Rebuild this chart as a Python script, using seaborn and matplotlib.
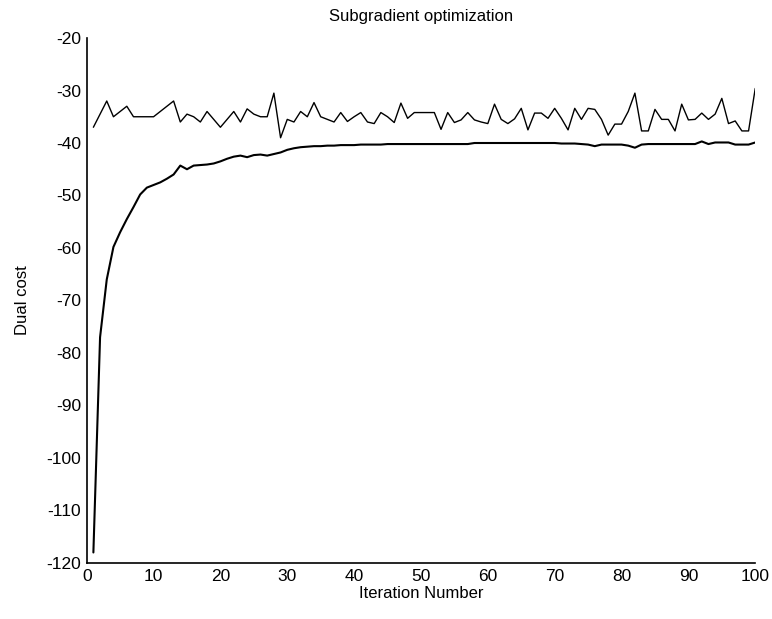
import numpy as np
import pandas as pd
import seaborn as sns
import matplotlib
matplotlib.use("Agg")
import matplotlib.pyplot as plt

iterations = list(range(1, 101))

upper_cost = [
    -37.0, -34.5, -32.0, -35.0, -34.0, -33.0, -35.0, -35.0, -35.0, -35.0,
    -34.0, -33.0, -32.0, -36.0, -34.5, -35.0, -36.0, -34.0, -35.5, -37.0,
    -35.5, -34.0, -36.0, -33.5, -34.5, -35.0, -35.0, -30.5, -39.0, -35.5,
    -36.0, -34.0, -35.0, -32.3, -35.0, -35.5, -36.0, -34.2, -35.9, -35.0,
    -34.2, -36.0, -36.3, -34.2, -35.0, -36.1, -32.4, -35.3, -34.2, -34.2,
    -34.2, -34.2, -37.4, -34.2, -36.1, -35.6, -34.2, -35.6, -36.0, -36.3,
    -32.6, -35.5, -36.3, -35.4, -33.4, -37.5, -34.3, -34.3, -35.3, -33.4,
    -35.3, -37.5, -33.4, -35.5, -33.4, -33.6, -35.5, -38.5, -36.4, -36.4,
    -34.0, -30.5, -37.7, -37.7, -33.6, -35.5, -35.5, -37.7, -32.6, -35.6,
    -35.5, -34.3, -35.5, -34.5, -31.5, -36.3, -35.8, -37.7, -37.7, -29.6,
]

lower_cost = [
    -118.0, -77.0, -66.0, -59.8, -57.0, -54.5, -52.2, -49.8, -48.5, -48.0,
    -47.5, -46.8, -46.0, -44.3, -45.0, -44.3, -44.2, -44.1, -43.9, -43.5,
    -43.0, -42.6, -42.4, -42.7, -42.3, -42.2, -42.4, -42.1, -41.8, -41.3,
    -41.0, -40.8, -40.7, -40.6, -40.6, -40.5, -40.5, -40.4, -40.4, -40.4,
    -40.3, -40.3, -40.3, -40.3, -40.2, -40.2, -40.2, -40.2, -40.2, -40.2,
    -40.2, -40.2, -40.2, -40.2, -40.2, -40.2, -40.2, -40.0, -40.0, -40.0,
    -40.0, -40.0, -40.0, -40.0, -40.0, -40.0, -40.0, -40.0, -40.0, -40.0,
    -40.1, -40.1, -40.1, -40.2, -40.3, -40.6, -40.3, -40.3, -40.3, -40.3,
    -40.5, -40.9, -40.3, -40.2, -40.2, -40.2, -40.2, -40.2, -40.2, -40.2,
    -40.2, -39.7, -40.2, -39.9, -39.9, -39.9, -40.3, -40.3, -40.3, -39.9,
]

x_ticks = [0, 10, 20, 30, 40, 50, 60, 70, 80, 90, 100]
y_ticks = [-120, -110, -100, -90, -80, -70, -60, -50, -40, -30, -20]

df = pd.DataFrame({"Iteration": iterations, "upper": upper_cost, "lower": lower_cost})

sns.set_style("white")
plt.rcParams["font.family"] = ["Liberation Sans Narrow", "Liberation Sans", "DejaVu Sans"]

fig = plt.figure(figsize=(7.72, 6.19), dpi=100)
ax = fig.add_axes([0.1123, 0.0905, 0.866, 0.8481])

sns.lineplot(data=df, x="Iteration", y="upper", ax=ax, color="black", linewidth=1.0)
sns.lineplot(data=df, x="Iteration", y="lower", ax=ax, color="black", linewidth=1.5)

ax.set_xlim(0, 100)
ax.set_ylim(-120, -20)
ax.set_xticks(x_ticks)
ax.set_yticks(y_ticks)
ax.set_xticklabels([str(t) for t in x_ticks])
ax.set_yticklabels([str(t) for t in y_ticks])
ax.tick_params(direction="in", length=5, width=1.0, labelsize=12.5, colors="black", pad=4)
for s in ["top", "right"]:
    ax.spines[s].set_visible(False)
for s in ["left", "bottom"]:
    ax.spines[s].set_color("black")
    ax.spines[s].set_linewidth(1.2)

ax.set_title("Subgradient optimization", fontsize=12, pad=12, color="black")
ax.set_xlabel("Iteration Number", fontsize=12, labelpad=2, color="black")
ax.set_ylabel("Dual cost", fontsize=12, labelpad=12, color="black")

fig.savefig("out.png", dpi=100, facecolor="white")
